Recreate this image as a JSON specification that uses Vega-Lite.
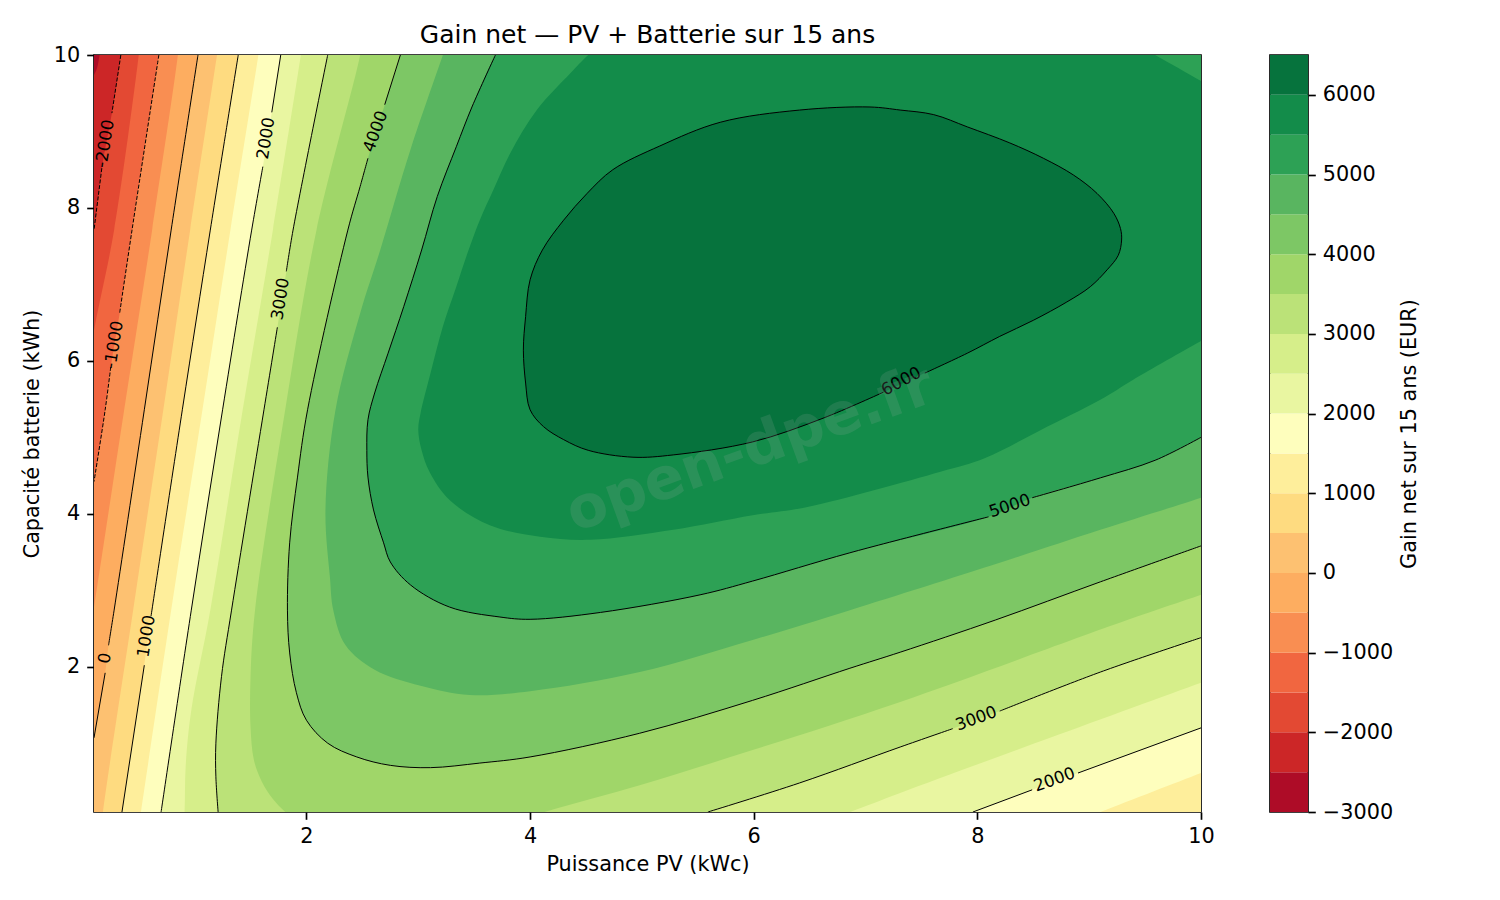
{
  "$schema": "https://vega.github.io/schema/vega-lite/v6.json",
  "background": "white",
  "padding": {"left": 20, "top": 22, "right": 10, "bottom": 10},
  "spacing": 53,
  "config": {
    "font": "DejaVu Sans",
    "view": {"stroke": "black", "strokeWidth": 1.67},
    "axis": {
      "grid": false, "domain": false, "labelFlush": false, "labelOverlap": false,
      "tickColor": "black", "tickWidth": 1.67, "tickSize": 7.3,
      "labelColor": "black", "labelFontSize": 20.8, "labelPadding": 7,
      "titleColor": "black", "titleFontSize": 20.8, "titleFontWeight": "normal"
    },
    "title": {"fontSize": 25, "fontWeight": "normal", "color": "black"}
  },
  "datasets": {
    "regions": [
      {"level":-3000,"x":-0.3,"y":10.3},{"level":-3000,"x":-0.3,"y":-0.3},{"level":-3000,"x":10.3,"y":-0.3},{"level":-3000,"x":10.3,"y":10.3},
      {"level":-2500,"x":0.17,"y":10.3},{"level":-2500,"x":0.15,"y":10},{"level":-2500,"x":0.10,"y":9.74},{"level":-2500,"x":-0.1,"y":9.5},{"level":-2500,"x":-0.3,"y":-0.3},{"level":-2500,"x":10.3,"y":-0.3},{"level":-2500,"x":10.3,"y":10.3},
      {"level":-2000,"x":0.36,"y":10.3},{"level":-2000,"x":0.34,"y":10},{"level":-2000,"x":0.26,"y":9.24},{"level":-2000,"x":0.17,"y":8.52},{"level":-2000,"x":0.10,"y":7.71},{"level":-2000,"x":-0.2,"y":5},{"level":-2000,"x":-0.3,"y":-0.3},{"level":-2000,"x":10.3,"y":-0.3},{"level":-2000,"x":10.3,"y":10.3},
      {"level":-1500,"x":0.52,"y":10.3},{"level":-1500,"x":0.50,"y":10},{"level":-1500,"x":0.28,"y":7.71},{"level":-1500,"x":0.10,"y":6.40},{"level":-1500,"x":-0.2,"y":4},{"level":-1500,"x":-0.3,"y":-0.3},{"level":-1500,"x":10.3,"y":-0.3},{"level":-1500,"x":10.3,"y":10.3},
      {"level":-1000,"x":0.71,"y":10.3},{"level":-1000,"x":0.68,"y":10},{"level":-1000,"x":0.44,"y":7.71},{"level":-1000,"x":0.33,"y":6.63},{"level":-1000,"x":0.25,"y":5.92},{"level":-1000,"x":0.20,"y":5.36},{"level":-1000,"x":0.10,"y":4.42},{"level":-1000,"x":-0.2,"y":2},{"level":-1000,"x":-0.3,"y":-0.3},{"level":-1000,"x":10.3,"y":-0.3},{"level":-1000,"x":10.3,"y":10.3},
      {"level":-500,"x":0.87,"y":10.3},{"level":-500,"x":0.85,"y":10},{"level":-500,"x":0.62,"y":7.71},{"level":-500,"x":0.37,"y":5.36},{"level":-500,"x":0.10,"y":2.78},{"level":-500,"x":-0.2,"y":0},{"level":-500,"x":-0.3,"y":-0.3},{"level":-500,"x":10.3,"y":-0.3},{"level":-500,"x":10.3,"y":10.3},
      {"level":0,"x":1.06,"y":10.3},{"level":0,"x":1.03,"y":10},{"level":0,"x":0.79,"y":7.71},{"level":0,"x":0.55,"y":5.36},{"level":0,"x":0.28,"y":2.74},{"level":0,"x":0.23,"y":2.28},{"level":0,"x":0.20,"y":1.92},{"level":0,"x":0.10,"y":1.07},{"level":0,"x":-0.06,"y":-0.3},{"level":0,"x":10.3,"y":-0.3},{"level":0,"x":10.3,"y":10.3},
      {"level":500,"x":1.23,"y":10.3},{"level":500,"x":1.20,"y":10},{"level":500,"x":0.96,"y":7.71},{"level":500,"x":0.72,"y":5.36},{"level":500,"x":0.45,"y":2.74},{"level":500,"x":0.18,"y":0.10},{"level":500,"x":0.15,"y":-0.3},{"level":500,"x":10.3,"y":-0.3},{"level":500,"x":10.3,"y":10.3},
      {"level":1000,"x":1.42,"y":10.3},{"level":1000,"x":1.39,"y":10},{"level":1000,"x":1.14,"y":7.71},{"level":1000,"x":0.89,"y":5.36},{"level":1000,"x":0.61,"y":2.66},{"level":1000,"x":0.55,"y":2.02},{"level":1000,"x":0.35,"y":0.10},{"level":1000,"x":0.31,"y":-0.3},{"level":1000,"x":10.3,"y":-0.3},{"level":1000,"x":10.3,"y":10.3},
      {"level":1500,"x":1.60,"y":10.3},{"level":1500,"x":1.57,"y":10},{"level":1500,"x":1.32,"y":7.71},{"level":1500,"x":1.07,"y":5.36},{"level":1500,"x":0.79,"y":2.74},{"level":1500,"x":0.52,"y":0.10},{"level":1500,"x":0.48,"y":-0.3},{"level":1500,"x":8.40,"y":-0.3},{"level":1500,"x":9.10,"y":0.10},{"level":1500,"x":10,"y":0.61},{"level":1500,"x":10.3,"y":0.78},{"level":1500,"x":10.3,"y":10.3},
      {"level":2000,"x":1.80,"y":10.3},{"level":2000,"x":1.77,"y":10},{"level":2000,"x":1.69,"y":9.25},{"level":2000,"x":1.61,"y":8.54},{"level":2000,"x":1.51,"y":7.71},{"level":2000,"x":1.25,"y":5.36},{"level":2000,"x":0.97,"y":2.74},{"level":2000,"x":0.70,"y":0.10},{"level":2000,"x":0.65,"y":-0.3},{"level":2000,"x":7.22,"y":-0.3},{"level":2000,"x":7.96,"y":0.10},{"level":2000,"x":8.49,"y":0.39},{"level":2000,"x":8.90,"y":0.61},{"level":2000,"x":10,"y":1.20},{"level":2000,"x":10.3,"y":1.36},{"level":2000,"x":10.3,"y":10.3},
      {"level":2500,"x":1.98,"y":10.3},{"level":2500,"x":1.95,"y":10},{"level":2500,"x":1.70,"y":7.71},{"level":2500,"x":1.43,"y":5.36},{"level":2500,"x":1.14,"y":2.74},{"level":2500,"x":0.97,"y":1.43},{"level":2500,"x":0.92,"y":0.70},{"level":2500,"x":0.91,"y":0.10},{"level":2500,"x":0.89,"y":-0.3},{"level":2500,"x":6.10,"y":-0.3},{"level":2500,"x":6.86,"y":0.10},{"level":2500,"x":7.31,"y":0.35},{"level":2500,"x":8.65,"y":1.07},{"level":2500,"x":10,"y":1.79},{"level":2500,"x":10.3,"y":1.95},{"level":2500,"x":10.3,"y":10.3},
      {"level":3000,"x":2.22,"y":10.3},{"level":3000,"x":2.19,"y":10},{"level":3000,"x":1.88,"y":7.71},{"level":3000,"x":1.82,"y":7.17},{"level":3000,"x":1.74,"y":6.44},{"level":3000,"x":1.62,"y":5.36},{"level":3000,"x":1.33,"y":2.74},{"level":3000,"x":1.24,"y":1.87},{"level":3000,"x":1.19,"y":1.00},{"level":3000,"x":1.19,"y":0.56},{"level":3000,"x":1.21,"y":0.10},{"level":3000,"x":1.23,"y":-0.3},{"level":3000,"x":4.85,"y":-0.3},{"level":3000,"x":5.59,"y":0.10},{"level":3000,"x":6.41,"y":0.48},{"level":3000,"x":7.31,"y":0.95},{"level":3000,"x":7.78,"y":1.19},{"level":3000,"x":8.20,"y":1.42},{"level":3000,"x":9.10,"y":1.93},{"level":3000,"x":10,"y":2.38},{"level":3000,"x":10.3,"y":2.53},{"level":3000,"x":10.3,"y":10.3},
      {"level":3500,"x":2.51,"y":10.3},{"level":3500,"x":2.48,"y":10},{"level":3500,"x":2.09,"y":7.71},{"level":3500,"x":1.81,"y":5.36},{"level":3500,"x":1.54,"y":2.74},{"level":3500,"x":1.50,"y":1.87},{"level":3500,"x":1.50,"y":1.21},{"level":3500,"x":1.53,"y":0.78},{"level":3500,"x":1.60,"y":0.50},{"level":3500,"x":1.70,"y":0.27},{"level":3500,"x":1.81,"y":0.10},{"level":3500,"x":2.1,"y":-0.3},{"level":3500,"x":3.3,"y":-0.3},{"level":3500,"x":4.13,"y":0.10},{"level":3500,"x":4.98,"y":0.45},{"level":3500,"x":5.99,"y":0.91},{"level":3500,"x":7.31,"y":1.54},{"level":3500,"x":9.34,"y":2.61},{"level":3500,"x":10,"y":2.94},{"level":3500,"x":10.3,"y":3.1},{"level":3500,"x":10.3,"y":10.3},
      {"level":4000,"x":2.87,"y":10.3},{"level":4000,"x":2.84,"y":10},{"level":4000,"x":2.70,"y":9.35},{"level":4000,"x":2.55,"y":8.65},{"level":4000,"x":2.48,"y":8.28},{"level":4000,"x":2.37,"y":7.71},{"level":4000,"x":2.01,"y":5.36},{"level":4000,"x":1.92,"y":4.48},{"level":4000,"x":1.85,"y":3.62},{"level":4000,"x":1.83,"y":2.74},{"level":4000,"x":1.85,"y":2.18},{"level":4000,"x":1.91,"y":1.66},{"level":4000,"x":2.0,"y":1.30},{"level":4000,"x":2.19,"y":1.0},{"level":4000,"x":2.45,"y":0.82},{"level":4000,"x":2.75,"y":0.71},{"level":4000,"x":3.11,"y":0.68},{"level":4000,"x":3.55,"y":0.74},{"level":4000,"x":4.0,"y":0.82},{"level":4000,"x":4.98,"y":1.13},{"level":4000,"x":5.99,"y":1.56},{"level":4000,"x":6.86,"y":1.98},{"level":4000,"x":7.31,"y":2.19},{"level":4000,"x":8.16,"y":2.61},{"level":4000,"x":9.10,"y":3.11},{"level":4000,"x":10,"y":3.58},{"level":4000,"x":10.3,"y":3.75},{"level":4000,"x":10.3,"y":10.3},
      {"level":4500,"x":3.29,"y":10.3},{"level":4500,"x":3.22,"y":10},{"level":4500,"x":2.93,"y":8.76},{"level":4500,"x":2.66,"y":7.45},{"level":4500,"x":2.48,"y":6.62},{"level":4500,"x":2.26,"y":5.36},{"level":4500,"x":2.17,"y":4.05},{"level":4500,"x":2.21,"y":3.17},{"level":4500,"x":2.24,"y":2.74},{"level":4500,"x":2.35,"y":2.28},{"level":4500,"x":2.61,"y":1.96},{"level":4500,"x":3.02,"y":1.75},{"level":4500,"x":3.46,"y":1.63},{"level":4500,"x":4.0,"y":1.68},{"level":4500,"x":4.98,"y":1.93},{"level":4500,"x":5.99,"y":2.35},{"level":4500,"x":6.86,"y":2.74},{"level":4500,"x":8.20,"y":3.36},{"level":4500,"x":9.10,"y":3.79},{"level":4500,"x":10,"y":4.21},{"level":4500,"x":10.3,"y":4.36},{"level":4500,"x":10.3,"y":10.3},
      {"level":5000,"x":3.82,"y":10.3},{"level":5000,"x":3.69,"y":10},{"level":5000,"x":3.48,"y":9.32},{"level":5000,"x":3.34,"y":8.80},{"level":5000,"x":3.17,"y":8.15},{"level":5000,"x":3.03,"y":7.45},{"level":5000,"x":2.87,"y":6.71},{"level":5000,"x":2.73,"y":6.10},{"level":5000,"x":2.61,"y":5.58},{"level":5000,"x":2.55,"y":5.23},{"level":5000,"x":2.54,"y":4.83},{"level":5000,"x":2.55,"y":4.48},{"level":5000,"x":2.60,"y":4.05},{"level":5000,"x":2.69,"y":3.62},{"level":5000,"x":2.75,"y":3.37},{"level":5000,"x":2.93,"y":3.07},{"level":5000,"x":3.28,"y":2.78},{"level":5000,"x":3.73,"y":2.65},{"level":5000,"x":4.0,"y":2.62},{"level":5000,"x":4.63,"y":2.71},{"level":5000,"x":5.52,"y":2.94},{"level":5000,"x":5.99,"y":3.12},{"level":5000,"x":6.86,"y":3.49},{"level":5000,"x":8.10,"y":3.96},{"level":5000,"x":8.49,"y":4.21},{"level":5000,"x":9.10,"y":4.47},{"level":5000,"x":9.59,"y":4.70},{"level":5000,"x":10,"y":5.0},{"level":5000,"x":10.3,"y":5.2},{"level":5000,"x":10.3,"y":10.3},
      {"level":5500,"x":4.78,"y":10.3},{"level":5500,"x":4.52,"y":10},{"level":5500,"x":4.36,"y":9.76},{"level":5500,"x":4.06,"y":9.28},{"level":5500,"x":3.82,"y":8.71},{"level":5500,"x":3.67,"y":8.23},{"level":5500,"x":3.55,"y":7.84},{"level":5500,"x":3.45,"y":7.45},{"level":5500,"x":3.34,"y":6.97},{"level":5500,"x":3.22,"y":6.45},{"level":5500,"x":3.11,"y":5.84},{"level":5500,"x":3.02,"y":5.31},{"level":5500,"x":3.0,"y":5.10},{"level":5500,"x":3.03,"y":4.83},{"level":5500,"x":3.10,"y":4.55},{"level":5500,"x":3.28,"y":4.18},{"level":5500,"x":3.64,"y":3.85},{"level":5500,"x":4.09,"y":3.70},{"level":5500,"x":4.54,"y":3.66},{"level":5500,"x":5.28,"y":3.79},{"level":5500,"x":5.99,"y":3.98},{"level":5500,"x":6.48,"y":4.09},{"level":5500,"x":7.67,"y":4.55},{"level":5500,"x":8.07,"y":4.73},{"level":5500,"x":8.56,"y":5.09},{"level":5500,"x":9.10,"y":5.49},{"level":5500,"x":9.39,"y":5.75},{"level":5500,"x":10,"y":6.26},{"level":5500,"x":10.3,"y":6.5},{"level":5500,"x":10.3,"y":9.4},{"level":5500,"x":10,"y":9.66},{"level":5500,"x":9.59,"y":10},{"level":5500,"x":9.23,"y":10.3},
      {"level":6000,"x":7.53,"y":5.84},{"level":6000,"x":7.91,"y":6.10},{"level":6000,"x":8.20,"y":6.32},{"level":6000,"x":8.50,"y":6.53},{"level":6000,"x":8.80,"y":6.77},{"level":6000,"x":9.01,"y":6.97},{"level":6000,"x":9.16,"y":7.19},{"level":6000,"x":9.26,"y":7.38},{"level":6000,"x":9.29,"y":7.58},{"level":6000,"x":9.28,"y":7.73},{"level":6000,"x":9.22,"y":7.93},{"level":6000,"x":9.07,"y":8.19},{"level":6000,"x":8.86,"y":8.43},{"level":6000,"x":8.59,"y":8.65},{"level":6000,"x":8.29,"y":8.85},{"level":6000,"x":7.91,"y":9.06},{"level":6000,"x":7.61,"y":9.22},{"level":6000,"x":7.31,"y":9.28},{"level":6000,"x":7.04,"y":9.32},{"level":6000,"x":6.41,"y":9.28},{"level":6000,"x":5.70,"y":9.12},{"level":6000,"x":5.16,"y":8.81},{"level":6000,"x":4.74,"y":8.50},{"level":6000,"x":4.51,"y":8.19},{"level":6000,"x":4.30,"y":7.84},{"level":6000,"x":4.11,"y":7.45},{"level":6000,"x":4.0,"y":7.06},{"level":6000,"x":3.96,"y":6.58},{"level":6000,"x":3.94,"y":6.14},{"level":6000,"x":3.96,"y":5.71},{"level":6000,"x":4.0,"y":5.36},{"level":6000,"x":4.12,"y":5.14},{"level":6000,"x":4.30,"y":4.97},{"level":6000,"x":4.52,"y":4.83},{"level":6000,"x":4.92,"y":4.74},{"level":6000,"x":5.28,"y":4.77},{"level":6000,"x":5.99,"y":4.94},{"level":6000,"x":6.62,"y":5.25},{"level":6000,"x":7.16,"y":5.59}
    ],
    "negative": [
      {"seg":"a","x":0.34,"y":10},{"seg":"a","x":0.26,"y":9.24},
      {"seg":"b","x":0.17,"y":8.52},{"seg":"b","x":0.10,"y":7.71},
      {"seg":"c","x":0.68,"y":10},{"seg":"c","x":0.44,"y":7.71},{"seg":"c","x":0.33,"y":6.63},
      {"seg":"d","x":0.25,"y":5.92},{"seg":"d","x":0.20,"y":5.36},{"seg":"d","x":0.10,"y":4.42}
    ],
    "contours": [
      {"seg":"0a","x":1.03,"y":10},{"seg":"0a","x":0.79,"y":7.71},{"seg":"0a","x":0.55,"y":5.36},{"seg":"0a","x":0.28,"y":2.74},{"seg":"0a","x":0.23,"y":2.28},
      {"seg":"0b","x":0.20,"y":1.92},{"seg":"0b","x":0.10,"y":1.07},
      {"seg":"1000a","x":1.39,"y":10},{"seg":"1000a","x":1.14,"y":7.71},{"seg":"1000a","x":0.89,"y":5.36},{"seg":"1000a","x":0.61,"y":2.66},
      {"seg":"1000b","x":0.55,"y":2.02},{"seg":"1000b","x":0.35,"y":0.10},
      {"seg":"2000a","x":1.77,"y":10},{"seg":"2000a","x":1.69,"y":9.25},
      {"seg":"2000b","x":1.61,"y":8.54},{"seg":"2000b","x":1.51,"y":7.71},{"seg":"2000b","x":1.25,"y":5.36},{"seg":"2000b","x":0.97,"y":2.74},{"seg":"2000b","x":0.70,"y":0.10},
      {"seg":"2000c","x":7.96,"y":0.10},{"seg":"2000c","x":8.49,"y":0.39},
      {"seg":"2000d","x":8.90,"y":0.61},{"seg":"2000d","x":10,"y":1.20},
      {"seg":"3000a","x":2.19,"y":10},{"seg":"3000a","x":1.88,"y":7.71},{"seg":"3000a","x":1.82,"y":7.17},
      {"seg":"3000b","x":1.74,"y":6.44},{"seg":"3000b","x":1.62,"y":5.36},{"seg":"3000b","x":1.33,"y":2.74},{"seg":"3000b","x":1.24,"y":1.87},{"seg":"3000b","x":1.19,"y":1.00},{"seg":"3000b","x":1.19,"y":0.56},{"seg":"3000b","x":1.21,"y":0.10},
      {"seg":"3000c","x":5.59,"y":0.10},{"seg":"3000c","x":6.41,"y":0.48},{"seg":"3000c","x":7.31,"y":0.95},{"seg":"3000c","x":7.78,"y":1.19},
      {"seg":"3000d","x":8.20,"y":1.42},{"seg":"3000d","x":9.10,"y":1.93},{"seg":"3000d","x":10,"y":2.38},
      {"seg":"4000a","x":2.84,"y":10},{"seg":"4000a","x":2.70,"y":9.35},
      {"seg":"4000b","x":2.55,"y":8.65},{"seg":"4000b","x":2.48,"y":8.28},{"seg":"4000b","x":2.37,"y":7.71},{"seg":"4000b","x":2.01,"y":5.36},{"seg":"4000b","x":1.92,"y":4.48},{"seg":"4000b","x":1.85,"y":3.62},{"seg":"4000b","x":1.83,"y":2.74},{"seg":"4000b","x":1.85,"y":2.18},{"seg":"4000b","x":1.91,"y":1.66},{"seg":"4000b","x":2.0,"y":1.30},{"seg":"4000b","x":2.19,"y":1.0},{"seg":"4000b","x":2.45,"y":0.82},{"seg":"4000b","x":2.75,"y":0.71},{"seg":"4000b","x":3.11,"y":0.68},{"seg":"4000b","x":3.55,"y":0.74},{"seg":"4000b","x":4.0,"y":0.82},{"seg":"4000b","x":4.98,"y":1.13},{"seg":"4000b","x":5.99,"y":1.56},{"seg":"4000b","x":6.86,"y":1.98},{"seg":"4000b","x":7.31,"y":2.19},{"seg":"4000b","x":8.16,"y":2.61},{"seg":"4000b","x":9.10,"y":3.11},{"seg":"4000b","x":10,"y":3.58},
      {"seg":"5000a","x":3.69,"y":10},{"seg":"5000a","x":3.48,"y":9.32},{"seg":"5000a","x":3.34,"y":8.80},{"seg":"5000a","x":3.17,"y":8.15},{"seg":"5000a","x":3.03,"y":7.45},{"seg":"5000a","x":2.87,"y":6.71},{"seg":"5000a","x":2.73,"y":6.10},{"seg":"5000a","x":2.61,"y":5.58},{"seg":"5000a","x":2.55,"y":5.23},{"seg":"5000a","x":2.54,"y":4.83},{"seg":"5000a","x":2.55,"y":4.48},{"seg":"5000a","x":2.60,"y":4.05},{"seg":"5000a","x":2.69,"y":3.62},{"seg":"5000a","x":2.75,"y":3.37},{"seg":"5000a","x":2.93,"y":3.07},{"seg":"5000a","x":3.28,"y":2.78},{"seg":"5000a","x":3.73,"y":2.65},{"seg":"5000a","x":4.0,"y":2.62},{"seg":"5000a","x":4.63,"y":2.71},{"seg":"5000a","x":5.52,"y":2.94},{"seg":"5000a","x":5.99,"y":3.12},{"seg":"5000a","x":6.86,"y":3.49},{"seg":"5000a","x":8.10,"y":3.96},
      {"seg":"5000b","x":8.49,"y":4.21},{"seg":"5000b","x":9.10,"y":4.47},{"seg":"5000b","x":9.59,"y":4.70},{"seg":"5000b","x":10,"y":5.0},
      {"seg":"6000","x":7.53,"y":5.84},{"seg":"6000","x":7.91,"y":6.10},{"seg":"6000","x":8.20,"y":6.32},{"seg":"6000","x":8.50,"y":6.53},{"seg":"6000","x":8.80,"y":6.77},{"seg":"6000","x":9.01,"y":6.97},{"seg":"6000","x":9.16,"y":7.19},{"seg":"6000","x":9.26,"y":7.38},{"seg":"6000","x":9.29,"y":7.58},{"seg":"6000","x":9.28,"y":7.73},{"seg":"6000","x":9.22,"y":7.93},{"seg":"6000","x":9.07,"y":8.19},{"seg":"6000","x":8.86,"y":8.43},{"seg":"6000","x":8.59,"y":8.65},{"seg":"6000","x":8.29,"y":8.85},{"seg":"6000","x":7.91,"y":9.06},{"seg":"6000","x":7.61,"y":9.22},{"seg":"6000","x":7.31,"y":9.28},{"seg":"6000","x":7.04,"y":9.32},{"seg":"6000","x":6.41,"y":9.28},{"seg":"6000","x":5.70,"y":9.12},{"seg":"6000","x":5.16,"y":8.81},{"seg":"6000","x":4.74,"y":8.50},{"seg":"6000","x":4.51,"y":8.19},{"seg":"6000","x":4.30,"y":7.84},{"seg":"6000","x":4.11,"y":7.45},{"seg":"6000","x":4.0,"y":7.06},{"seg":"6000","x":3.96,"y":6.58},{"seg":"6000","x":3.94,"y":6.14},{"seg":"6000","x":3.96,"y":5.71},{"seg":"6000","x":4.0,"y":5.36},{"seg":"6000","x":4.12,"y":5.14},{"seg":"6000","x":4.30,"y":4.97},{"seg":"6000","x":4.52,"y":4.83},{"seg":"6000","x":4.92,"y":4.74},{"seg":"6000","x":5.28,"y":4.77},{"seg":"6000","x":5.99,"y":4.94},{"seg":"6000","x":6.62,"y":5.25},{"seg":"6000","x":7.16,"y":5.59}
    ],
    "bands": [
      {"level":-3000,"upper":-2500},{"level":-2500,"upper":-2000},{"level":-2000,"upper":-1500},{"level":-1500,"upper":-1000},
      {"level":-1000,"upper":-500},{"level":-500,"upper":0},{"level":0,"upper":500},{"level":500,"upper":1000},
      {"level":1000,"upper":1500},{"level":1500,"upper":2000},{"level":2000,"upper":2500},{"level":2500,"upper":3000},
      {"level":3000,"upper":3500},{"level":3500,"upper":4000},{"level":4000,"upper":4500},{"level":4500,"upper":5000},
      {"level":5000,"upper":5500},{"level":5500,"upper":6000},{"level":6000,"upper":6500}
    ]
  },
  "hconcat": [
    {
      "width": 1107,
      "height": 757,
      "title": {"text": "Gain net — PV + Batterie sur 15 ans", "offset": -4},
      "encoding": {
        "x": {"field": "x", "type": "quantitative", "title": "Puissance PV (kWc)",
          "scale": {"domain": [0.1, 10], "nice": false, "zero": false},
          "axis": {"values": [2, 4, 6, 8, 10], "titlePadding": 8}},
        "y": {"field": "y", "type": "quantitative", "title": "Capacité batterie (kWh)",
          "scale": {"domain": [0.1, 10], "nice": false, "zero": false},
          "axis": {"values": [2, 4, 6, 8, 10], "titlePadding": 11}}
      },
      "layer": [
        {
          "data": {"name": "regions"},
          "mark": {"type": "line", "clip": true, "interpolate": "catmull-rom", "strokeWidth": 0},
          "encoding": {
            "fill": {"field": "level", "type": "ordinal", "legend": null,
              "scale": {
                "domain": [-3000,-2500,-2000,-1500,-1000,-500,0,500,1000,1500,2000,2500,3000,3500,4000,4500,5000,5500,6000],
                "range": ["#ae0c27","#cc2627","#e34933","#f16640","#f98e52","#fdad60","#fdc171","#fedb80","#feee9b","#fefebd","#e9f6a1","#d6ee8a","#bbe278","#a0d669","#7dc765","#59b560","#2da155","#138c4a","#06733d"]
              }},
            "order": {"value": null}
          }
        },
        {
          "data": {"name": "negative"},
          "mark": {"type": "line", "clip": true, "interpolate": "catmull-rom", "color": "black", "strokeWidth": 1, "strokeDash": [4, 1.7]},
          "encoding": {"detail": {"field": "seg"}, "order": {"value": null}}
        },
        {
          "data": {"name": "contours"},
          "mark": {"type": "line", "clip": true, "interpolate": "catmull-rom", "color": "black", "strokeWidth": 1},
          "encoding": {"detail": {"field": "seg"}, "order": {"value": null}}
        },
        {
          "data": {"values": [
            {"label":"-2000","x":0.20,"y":8.84},{"label":"-1000","x":0.28,"y":6.21},{"label":"0","x":0.20,"y":2.11},
            {"label":"1000","x":0.57,"y":2.40},{"label":"2000","x":1.64,"y":8.91},{"label":"3000","x":1.77,"y":6.81}
          ]},
          "mark": {"type": "text", "fontSize": 16.7, "color": "black", "angle": 279, "baseline": "middle"},
          "encoding": {"text": {"field": "label"}}
        },
        {
          "data": {"values": [{"label":"4000","x":2.62,"y":9.0}]},
          "mark": {"type": "text", "fontSize": 16.7, "color": "black", "angle": 290, "baseline": "middle"},
          "encoding": {"text": {"field": "label"}}
        },
        {
          "data": {"values": [{"label":"5000","x":8.29,"y":4.10}]},
          "mark": {"type": "text", "fontSize": 16.7, "color": "black", "angle": 342, "baseline": "middle"},
          "encoding": {"text": {"field": "label"}}
        },
        {
          "data": {"values": [{"label":"6000","x":7.32,"y":5.73}]},
          "mark": {"type": "text", "fontSize": 16.7, "color": "black", "angle": 332, "baseline": "middle"},
          "encoding": {"text": {"field": "label"}}
        },
        {
          "data": {"values": [{"label":"3000","x":7.99,"y":1.32},{"label":"2000","x":8.69,"y":0.52}]},
          "mark": {"type": "text", "fontSize": 16.7, "color": "black", "angle": 340, "baseline": "middle"},
          "encoding": {"text": {"field": "label"}}
        },
        {
          "data": {"values": [{"label":"open-dpe.fr","x":5.97,"y":4.83}]},
          "mark": {"type": "text", "fontSize": 58.3, "fontWeight": "bold", "color": "#b0b0b0", "opacity": 0.15, "angle": 340, "baseline": "middle"},
          "encoding": {"text": {"field": "label"}}
        }
      ]
    },
    {
      "width": 38,
      "height": 757,
      "data": {"name": "bands"},
      "mark": {"type": "rect"},
      "encoding": {
        "y": {"field": "level", "type": "quantitative",
          "title": "Gain net sur 15 ans (EUR)",
          "scale": {"domain": [-3000, 6500], "nice": false, "zero": false},
          "axis": {"orient": "right", "format": "d", "values": [-3000,-2000,-1000,0,1000,2000,3000,4000,5000,6000], "titleAngle": 270, "titlePadding": 27}},
        "y2": {"field": "upper"},
        "fill": {"field": "level", "type": "ordinal", "legend": null,
          "scale": {
            "domain": [-3000,-2500,-2000,-1500,-1000,-500,0,500,1000,1500,2000,2500,3000,3500,4000,4500,5000,5500,6000],
            "range": ["#ae0c27","#cc2627","#e34933","#f16640","#f98e52","#fdad60","#fdc171","#fedb80","#feee9b","#fefebd","#e9f6a1","#d6ee8a","#bbe278","#a0d669","#7dc765","#59b560","#2da155","#138c4a","#06733d"]
          }}
      }
    }
  ],
  "resolve": {"scale": {"fill": "independent"}}
}
